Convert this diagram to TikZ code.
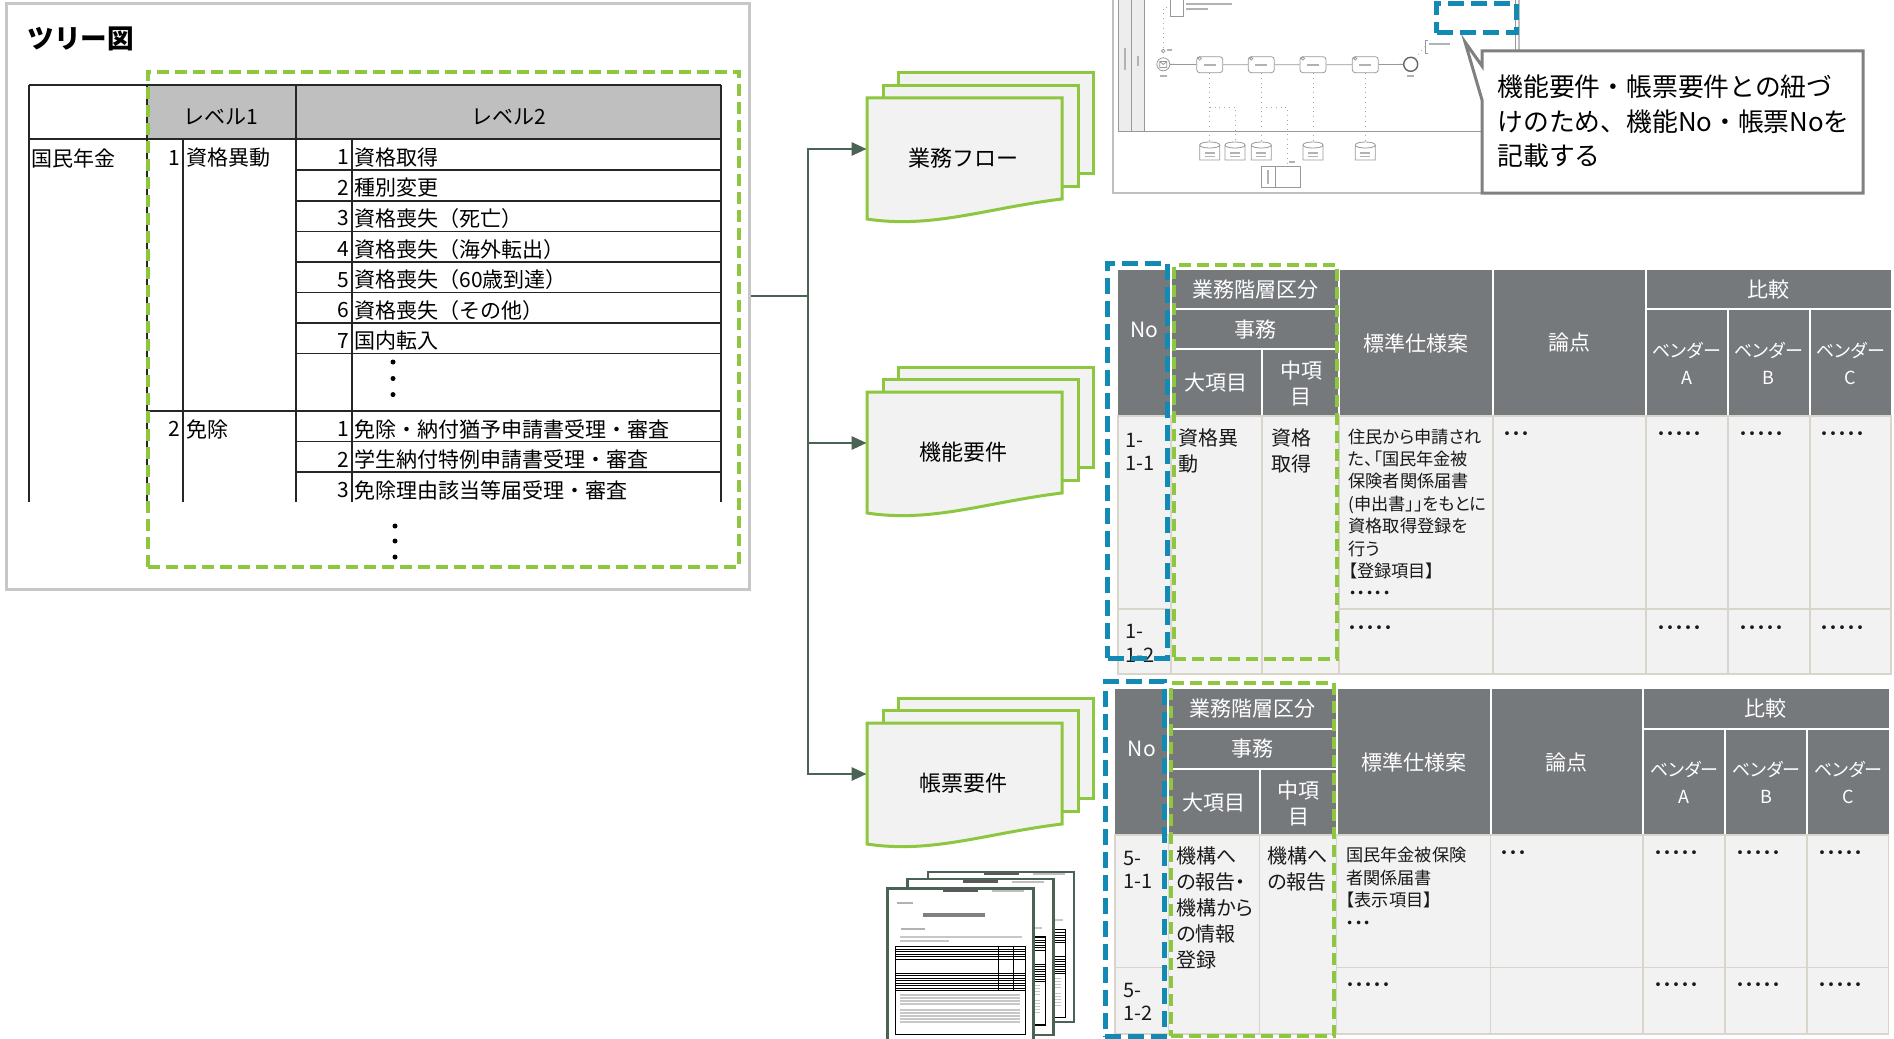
\documentclass[tikz,border=0pt]{standalone}
\usepackage{fontspec}
\setmainfont{Noto Sans CJK JP}
\newfontfamily\pfont[RawFeature=+palt]{Noto Sans CJK JP}
\usetikzlibrary{arrows.meta,positioning,fit}

\definecolor{leaf}{HTML}{8DC63F}
\definecolor{sea}{HTML}{138AB4}
\definecolor{pine}{HTML}{4A6355}
\definecolor{slate}{HTML}{76797C}
\definecolor{paper}{HTML}{F2F2F2}
\definecolor{seam}{HTML}{DAD5CB}

% three stacked pages, the front one is named #1
\newcommand{\docstack}[4]{%
\begin{scope}[shift={(#2,#3)}]
  \filldraw[page] (31,-25) rectangle (226,75);
  \filldraw[page] (16,-12.5) rectangle (211,88.5);
  \filldraw[page] (0,0) -- (195,0) -- (195,101)
    .. controls (120,110) and (65,131) .. (0,121) -- cycle;
  \node[fit={(0,0) (195,102)}, inner sep=0] (#1) {};
  \node[font=\fontsize{11pt}{13pt}\selectfont] (#1t) at (96,60) {#4};
\end{scope}}

% one printed form sheet
\newcommand{\formpage}[4]{%
\begin{scope}[shift={(#2,#3)}]
  \node[fit={(0,0) (146,#4)}, inner sep=0, draw=pine, line width=1.2pt, fill=white] (#1) {};
  \fill[black!65] (56,1) rectangle (91,3.5);
  \fill[black!25] (105,1.5) rectangle (137,3.5);
  \fill[black!30] (10,14) rectangle (26,16);
  \fill[black!50] (36,25) rectangle (98,28.5);
  \fill[black!30] (14,39.5) rectangle (38,41.5);
  \fill[black!22] (13,47.5) rectangle (135,49.5);
  \fill[black!22] (13,51.5) rectangle (62,53.5);
  \draw[black, line width=0.6pt] (8,58) rectangle (138,146);
  \draw[black, line width=0.5pt] (111,58) -- (111,102) (126,58) -- (126,102);
  \foreach \y in {61,63.5,66,68.5,71,85,87.5,90,92.5,95,97.5,100,102}
    \draw[black, line width=0.45pt] (8,\y) -- (138,\y);
  \foreach \y in {106,109,112,115,121,124,127,130,133}
    \fill[black!22] (13,\y) rectangle (133,{\y+1.2});
\end{scope}}

% header and grid of a requirement table
\newcommand{\reqtable}[3]{%
  \fill[slate] (0,0) rectangle (773.3,145.7);
  \fill[paper] (0,145.7) rectangle (773.3,#2);
  \foreach \x in {53.2,221.3,375.3,528} \draw[hseam] (\x,0) -- (\x,145.7);
  \draw[hseam] (53.2,39.3) -- (221.3,39.3) (53.2,79.3) -- (221.3,79.3) (144.3,79.3) -- (144.3,145.7);
  \draw[hseam] (528,39.3) -- (773.3,39.3) (610,39.3) -- (610,145.7) (692,39.3) -- (692,145.7);
  \draw[bseam] (0,145.7) rectangle (773.3,#2);
  \foreach \x in {53.2,144.3,221.3,375.3,528,610,692} \draw[bseam] (\x,145.7) -- (\x,#2);
  \draw[bseam] (0,#1) -- (53.2,#1) (221.3,#1) -- (773.3,#1);
  \node[th] (#3no) at (26.6,60) {No};
  \node[th] (#3lv) at (137.3,19.7) {業務階層区分};
  \node[th] (#3job) at (137.3,59.3) {事務};
  \node[th] (#3big) at (98.7,113) {大項目};
  \node[th, align=center] (#3mid) at (183.3,113.8) {中項\\目};
  \node[th] (#3spec) at (298.3,73) {標準仕様案};
  \node[th] (#3issue) at (451.7,73) {論点};
  \node[th] (#3cmp) at (650.7,19.7) {比較};
  \foreach \v/\x in {A/569,B/651,C/733}
    \node[th, align=center, font=\pfont\fontsize{9pt}{13.3pt}\selectfont] (#3v\v) at (\x,93.3) {ベンダー\\\v};
}

\begin{document}
\begin{tikzpicture}[x=0.5pt,y=-0.5pt,
  rule/.style={draw=black!85, line width=0.75pt},
  cell/.style={anchor=west, inner sep=0, yshift=-1.5pt, font=\fontsize{10.5pt}{12pt}\selectfont},
  num/.style={cell, anchor=east},
  lvbox/.style={draw=leaf, line width=2pt, dash pattern=on 6pt off 3pt, inner sep=0},
  idbox/.style={draw=sea, line width=2.5pt, dash pattern=on 8pt off 3.5pt, inner sep=0},
  page/.style={fill=paper, draw=leaf, line width=1.5pt},
  link/.style={draw=pine, line width=1.4pt},
  hseam/.style={draw=white, line width=1pt},
  bseam/.style={draw=seam, line width=0.8pt},
  th/.style={text=white, inner sep=0, font=\fontsize{10.5pt}{12.85pt}\selectfont},
  td/.style={anchor=north west, align=left, inner sep=0, text=black!90, font=\pfont\fontsize{10pt}{12.9pt}\selectfont},
  nos/.style={td, font=\pfont\fontsize{10pt}{11.7pt}\selectfont},
  note/.style={td, font=\pfont\fontsize{8.6pt}{11.2pt}\selectfont},
  dots/.style={anchor=west, inner sep=0, text=black!90, font=\pfont\fontsize{9pt}{11pt}\selectfont},
  thumb/.style={draw=black!40, line width=0.4pt},
  dotflow/.style={draw=black!35, line width=0.4pt, dotted},
  blot/.style={fill=black!30}]

\fill[white] (0,0) rectangle (1894,1038);
\useasboundingbox (0,0) rectangle (1894,1038);

% tree panel
\node[fit={(6,4) (749,589)}, inner sep=0, draw=black!22, line width=1.5pt] (tree) {};
\node[anchor=west, inner sep=0, font=\bfseries\fontsize{13.3pt}{16pt}\selectfont] (title) at (27,39) {ツリー図};

\fill[black!25] (147,85) rectangle (721,139);
\draw[rule] (29,85) -- (721,85);
\draw[rule, line width=1.3pt] (29,139) -- (147,139);
\draw[rule] (147,139) -- (721,139);
\foreach \x in {29,147,296,721} \draw[rule] (\x,85) -- (\x,502);
\foreach \x in {183,352} \draw[rule] (\x,139) -- (\x,502);
\foreach \y in {170,201,231.5,262,292.5,323,353.5,441.5,472} \draw[rule] (296,\y) -- (721,\y);
\draw[rule] (147,411) -- (721,411);

\node[cell, anchor=center] (lv1) at (221,114) {レベル1};
\node[cell, anchor=center] (lv2) at (509,114) {レベル2};
\node[cell] (root) at (31,155) {国民年金};
\node[num] (na) at (181,155) {1};
\node[cell] (ga) at (186,155) {資格異動};
\node[num] (nb) at (181,426) {2};
\node[cell] (gb) at (186,426) {免除};
\foreach \n/\t [count=\i from 0] in {1/資格取得,2/種別変更,3/資格喪失（死亡）,4/資格喪失（海外転出）,5/資格喪失（60歳到達）,6/資格喪失（その他）,7/国内転入}{
  \node[num] (na\n) at (350,{154.3+30.6*\i}) {\n};
  \node[cell] (ta\n) at (354,{154.3+30.6*\i}) {\t};
}
\foreach \n/\t [count=\i from 0] in {1/免除・納付猶予申請書受理・審査,2/学生納付特例申請書受理・審査,3/免除理由該当等届受理・審査}{
  \node[num] (nb\n) at (350,{426.3+30.6*\i}) {\n};
  \node[cell] (tb\n) at (354,{426.3+30.6*\i}) {\t};
}
\foreach \y in {362,378.5,394.6} \fill (393,\y) circle (1.25pt);
\foreach \y in {526,541,557} \fill (395,\y) circle (1.25pt);
\node[lvbox, fit={(148,72) (739,567)}] (scopea) {};

% business flow thumbnail
\filldraw[draw=black!25, line width=0.8pt, fill=white] (1112.7,-4) rectangle (1519,192.7);
\filldraw[thumb, fill=black!7] (1118,-4) rectangle (1144.3,131.7);
\draw[thumb] (1118,-4) rectangle (1515,131.7);
\draw[thumb] (1131.7,-4) -- (1131.7,131.7);
\fill[blot] (1123.6,48) rectangle (1125.6,70);
\fill[blot] (1136.8,56) rectangle (1138.8,66);
\node[thumb, fill=white, minimum width=6.3pt, minimum height=9.5pt, inner sep=0] (doc) at (1177,7.3) {};
\fill[blot] (1186,3) rectangle (1232,4.6);
\fill[blot] (1186,8) rectangle (1208,9.6);
\node[circle, thumb, minimum size=6.5pt, inner sep=0] (s0) at (1163.3,64.3) {};
\draw[thumb] (1159.8,61.5) rectangle (1166.8,67.5) (1159.8,61.5) -- (1163.3,64.5) -- (1166.8,61.5);
\draw[dotflow] (s0) |- (doc);
\draw[thumb] (1163.3,51) circle (0.9pt);
\fill[blot] (1167,49) rectangle (1172,51);
\fill[blot] (1159.5,75.5) rectangle (1167,77.5);
\node[circle, draw=black!60, line width=0.7pt, minimum size=7pt, inner sep=0] (s9) at (1410.7,64.3) {};
\fill[blot] (1407,75.5) rectangle (1414,77.5);
\foreach \x [count=\i] in {1209.7,1261.3,1313,1365.3}{
  \node[thumb, rounded corners=1.5pt, minimum width=13pt, minimum height=8pt, inner sep=0] (t\i) at (\x,64.7) {};
  \fill[blot] ({\x-6},64) rectangle ({\x+6},65.6);
  \draw[thumb] ({\x-10},58.5) circle (0.8pt);
}
\draw[thumb] (s0) -- (t1) -- (t2) -- (t3) -- (t4) -- (s9);
\draw[thumb] (1428,40) -- (1425,40) -- (1425,53) -- (1428,53);
\coordinate (ann) at (1425,46.5);
\draw[dotflow] (s9) -- (ann);
\fill[blot] (1429,43) rectangle (1450,45);
\foreach \x [count=\i] in {1209.7,1235,1261.3,1313,1365.3} \coordinate (d\i) at (\x,143);
\draw[dotflow] (t1) -- (d1) (t2) -- (d3) (t3) -- (d4) (t4) -- (d5);
\coordinate (k1) at (1209.7,107);
\coordinate (k2) at (1261.3,107);
\coordinate (k3) at (1287,166.7);
\draw[dotflow] (k1) -| (d2);
\draw[dotflow] (k2) -| (k3);
\foreach \x in {1209.7,1235,1261.3,1313,1365.3}{
  \draw[thumb, fill=white] ({\x-10},145) -- ({\x-10},160) -- ({\x+10},160) -- ({\x+10},145)
    .. controls ({\x+10},141) and ({\x-10},141) .. ({\x-10},145) -- cycle;
  \draw[thumb] ({\x-10},145) .. controls ({\x-10},149) and ({\x+10},149) .. ({\x+10},145);
  \fill[blot] ({\x-5},152) rectangle ({\x+5},153.5);
  \fill[blot] ({\x-5},155.5) rectangle ({\x+5},157);
}
\node[thumb, fill=white, fit={(1261,166.7) (1300.7,187.3)}, inner sep=0] (slip) {};
\draw[thumb] (1275,166.7) -- (1275,187.3);
\fill[blot] (1267,170) rectangle (1269,184);
\fill[blot] (1289,160.5) rectangle (1295,162.5);

\node[idbox, fit={(1436.7,3.3) (1516,33)}] (flowno) {};

% note balloon
\filldraw[draw=black!50, line width=1.5pt, fill=white] (1482,51) -- (1863,51) -- (1863,193)
  -- (1482,193) -- (1482,100) -- (1465,42) -- (1482,66) -- cycle;
\node[anchor=north west, align=left, inner sep=0, font=\fontsize{12.9pt}{17.25pt}\selectfont] (memo)
  at (1497,74.8) {機能要件・帳票要件との紐づ\\けのため、機能No・帳票Noを\\記載する};

% outputs
\docstack{flowdoc}{867}{98}{業務フロー}
\docstack{funcdoc}{867}{392}{機能要件}
\docstack{formdoc}{867}{723}{帳票要件}

\coordinate (split) at (808,296);
\draw[link] (tree.east |- split) -- (split);
\foreach \d in {flowdoc,funcdoc,formdoc}
  \draw[link, -{Triangle[length=7.5pt,width=6.5pt]}] (split) |- (\d.west);

\formpage{sheetc}{927.7}{871.7}{150}
\formpage{sheetb}{907.3}{879}{156}
\formpage{sheeta}{887.3}{888.3}{160}

% function requirements table
\begin{scope}[shift={(1117.7,270)}]
  \reqtable{338.8}{404}{fa}
  \node[nos] (fano1) at (7.6,162.6) {1-\\1-1};
  \node[nos] (fano2) at (7.6,354.3) {1-\\1-2};
  \node[td] (fabig) at (60.8,158) {資格異\\動};
  \node[td] (famid) at (153.3,158) {資格\\取得};
  \node[note] (faspec) at (230.3,158.2) {住民から申請され\\た、「国民年金被\\保険者関係届書\\(申出書」」をもとに\\資格取得登録を\\行う\\【登録項目】\\・・・・・};
  \node[dots] (faissue) at (384.8,166) {・・・};
  \node[dots] (faspec2) at (230.3,360) {・・・・・};
  \foreach \x [count=\i] in {539.3,621.3,702.3}{
    \node[dots] (fav\i) at (\x,166) {・・・・・};
    \node[dots] (faw\i) at (\x,360) {・・・・・};
  }
\end{scope}
\node[idbox, fit={(1107.6,263) (1167,658)}] (fanos) {};
\node[lvbox, fit={(1174.4,265) (1336.5,659)}] (falvs) {};

% form requirements table
\begin{scope}[shift={(1115.2,689.3)}]
  \reqtable{278}{344.7}{fb}
  \node[nos] (fbno1) at (7.6,161.6) {5-\\1-1};
  \node[nos] (fbno2) at (7.6,293.3) {5-\\1-2};
  \node[td] (fbbig) at (60.8,157.4) {機構へ\\の報告・\\機構から\\の情報\\登録};
  \node[td] (fbmid) at (151.8,157.4) {機構へ\\の報告};
  \node[note, font=\pfont\fontsize{8.6pt}{11.35pt}\selectfont] (fbspec) at (230.4,157.2) {国民年金被保険\\者関係届書\\【表示項目】\\・・・};
  \node[dots] (fbissue) at (384.8,165.7) {・・・};
  \node[dots] (fbspec2) at (230.4,298) {・・・・・};
  \foreach \x [count=\i] in {538.2,620.2,702.8}{
    \node[dots] (fbv\i) at (\x,165.7) {・・・・・};
    \node[dots] (fbw\i) at (\x,298) {・・・・・};
  }
\end{scope}
\node[idbox, fit={(1105,681.7) (1164.8,1036)}] (fbnos) {};
\node[lvbox, fit={(1171,683) (1334,1036)}] (fblvs) {};
\end{tikzpicture}
\end{document}
